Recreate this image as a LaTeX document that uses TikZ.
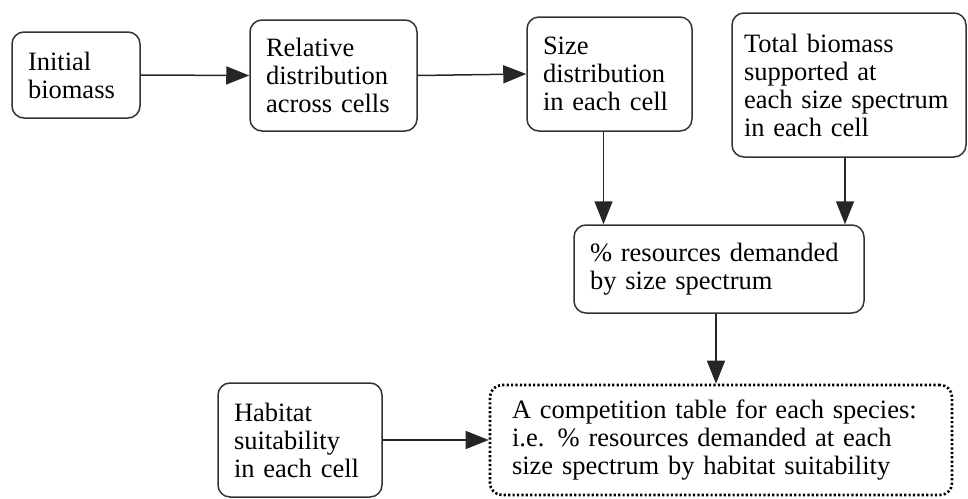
\documentclass[tikz,border=0pt]{standalone}
\usepackage{fontspec}
\setmainfont{Liberation Serif}
\usetikzlibrary{arrows.meta}
\tikzset{
  box/.style={draw=black!80, line width=1.5pt, rounded corners=12pt, align=left,
    inner xsep=16pt, inner ysep=0pt, font=\fontsize{26.5}{28}\selectfont},
  flow/.style={-{Triangle[length=23pt,width=18pt]}, line width=1.5pt, black!85}
}
\begin{document}
\begin{tikzpicture}[x=1pt,y=-1pt]
  \useasboundingbox (0,0) rectangle (968,498);
  % top row
  \node[box, text width=96pt, minimum height=86pt] (init) at (76,75) {Initial\\biomass};
  \node[box, text width=135pt, minimum height=111pt] (reldist) at (333.5,75.5) {Relative\\distribution\\across cells};
  \node[box, text width=133pt, minimum height=114pt] (sizedist) at (609.5,74) {Size\\distribution\\in each cell};
  \node[box, inner xsep=12pt, text width=210pt, minimum height=144pt] (total) at (849,85) {Total biomass\\supported at\\each size spectrum\\in each cell};
  % middle
  \node[box, text width=258pt, minimum height=88pt] (demand) at (719,269) {\% resources demanded\\by size spectrum};
  % bottom row
  \node[box, text width=132pt, minimum height=114pt] (habitat) at (300,440) {Habitat\\suitability\\in each cell};
  \node[box, draw=black, dash pattern=on 2.2pt off 2.2pt, line width=2.6pt, inner xsep=22pt, text width=418pt, minimum height=110pt] (comp) at (721,440) {A competition table for each species:\\i.e. \% resources demanded at each\\size spectrum by habitat suitability};
  % arrows
  \draw[flow] (init.east) -- (reldist.west);
  \draw[flow] (reldist.east) -- (sizedist.west);
  \draw[flow] ([xshift=-6pt]sizedist.south) -- ([xshift=-6pt]sizedist.south |- demand.north);
  \draw[flow] ([xshift=-4pt]total.south) -- ([xshift=-4pt]total.south |- demand.north);
  \draw[flow] ([xshift=-3pt]demand.south) -- ([xshift=-3pt]demand.south |- comp.north);
  \draw[flow] (habitat.east) -- (comp.west);
\end{tikzpicture}
\end{document}
